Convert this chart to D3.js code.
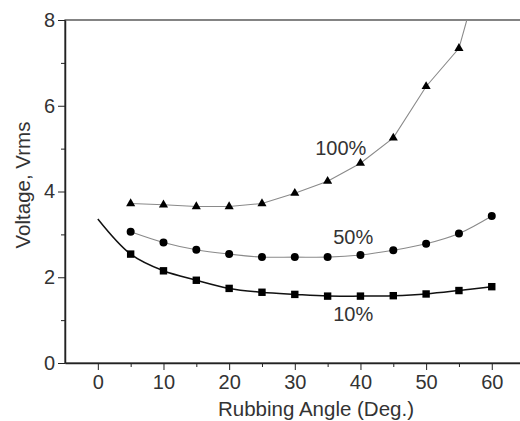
<!DOCTYPE html>
<html>
<head>
<meta charset="utf-8">
<script src="https://cdn.jsdelivr.net/npm/d3@7"></script>
<style>
  body { margin: 0; background: #fff; }
  text { font-family: "Liberation Sans", Arial, sans-serif; fill: #333; }
  .axis path, .axis line { stroke: #222; }
</style>
</head>
<body>
<svg id="chart" width="520" height="421"></svg>
<script>
// values
var angles = [5, 10, 15, 20, 25, 30, 35, 40, 45, 50, 55, 60];
var v10  = [2.54, 2.15, 1.93, 1.74, 1.65, 1.60, 1.56, 1.56, 1.57, 1.61, 1.69, 1.78];
var v50  = [3.06, 2.81, 2.64, 2.54, 2.47, 2.47, 2.47, 2.52, 2.63, 2.78, 3.02, 3.43];
var v100 = [3.72, 3.69, 3.65, 3.65, 3.72, 3.96, 4.24, 4.66, 5.25, 6.45, 7.34];
// where the curves start / leave the frame
var fit10Start = [0, 3.36];
var fit100End = [56.2, 8.0];
var xTicks = [0, 10, 20, 30, 40, 50, 60];
var xMinor = [5, 15, 25, 35, 45, 55];
var yTicks = [0, 2, 4, 6, 8];
var yMinor = [1, 3, 5, 7];
var labels = [
  {text: "100%", x: 37.0, y: 4.85},
  {text: "50%", x: 38.9, y: 2.78},
  {text: "10%", x: 38.9, y: 0.97}
];

var svg = d3.select("#chart");
var mLeft = 65, mTop = 20, mBottom = 363;

var x = d3.scaleLinear().domain([-5, 65]).range([mLeft, 524.6]);
var y = d3.scaleLinear().domain([0, 8]).range([mBottom, mTop]);

svg.append("defs").append("clipPath").attr("id", "clip")
  .append("rect")
  .attr("x", mLeft).attr("y", mTop)
  .attr("width", x(65) - mLeft).attr("height", mBottom - mTop);

// frame (top / right edges)
svg.append("rect")
  .attr("x", mLeft).attr("y", mTop)
  .attr("width", x(65) - mLeft).attr("height", mBottom - mTop)
  .attr("fill", "none").attr("stroke", "#333").attr("stroke-width", 1.2);

// x axis
svg.append("g").attr("class", "axis")
  .attr("transform", "translate(0," + mBottom + ")")
  .call(d3.axisBottom(x).tickValues(xMinor).tickSize(4).tickFormat("").tickSizeOuter(0))
  .call(function(g) { g.select(".domain").remove(); });
var gx = svg.append("g").attr("class", "axis")
  .attr("transform", "translate(0," + mBottom + ")")
  .call(d3.axisBottom(x).tickValues(xTicks).tickSize(7).tickSizeOuter(0).tickPadding(5));
gx.selectAll("text").style("font-size", "20px").attr("fill", "#333");
gx.select(".domain").attr("stroke-width", 1.5);

// y axis
svg.append("g").attr("class", "axis")
  .attr("transform", "translate(" + mLeft + ",0)")
  .call(d3.axisLeft(y).tickValues(yMinor).tickSize(4).tickFormat("").tickSizeOuter(0))
  .call(function(g) { g.select(".domain").remove(); });
var gy = svg.append("g").attr("class", "axis")
  .attr("transform", "translate(" + mLeft + ",0)")
  .call(d3.axisLeft(y).tickValues(yTicks).tickSize(7).tickSizeOuter(0).tickPadding(3));
gy.selectAll("text").style("font-size", "20px").attr("fill", "#333");
gy.select(".domain").attr("stroke-width", 1.5);

// axis titles
svg.append("text")
  .attr("x", 316).attr("y", 416)
  .attr("text-anchor", "middle")
  .style("font-size", "20.5px")
  .text("Rubbing Angle (Deg.)");
svg.append("text")
  .attr("transform", "translate(30,185) rotate(-90)")
  .attr("text-anchor", "middle")
  .style("font-size", "20.5px")
  .text("Voltage, Vrms");

// series
var pts10 = [fit10Start].concat(angles.map(function(a, i) { return [a, v10[i]]; }));
var pts50 = angles.map(function(a, i) { return [a, v50[i]]; });
var pts100 = angles.slice(0, v100.length).map(function(a, i) { return [a, v100[i]]; }).concat([fit100End]);

var smooth = d3.line()
  .x(function(d) { return x(d[0]); })
  .y(function(d) { return y(d[1]); })
  .curve(d3.curveCatmullRom.alpha(0.5));
var straight = d3.line()
  .x(function(d) { return x(d[0]); })
  .y(function(d) { return y(d[1]); });

var plot = svg.append("g").attr("clip-path", "url(#clip)");

plot.append("path").datum(pts100).attr("d", straight)
  .attr("fill", "none").attr("stroke", "#8a8a8a").attr("stroke-width", 1.1);
plot.append("path").datum(pts50).attr("d", smooth)
  .attr("fill", "none").attr("stroke", "#8a8a8a").attr("stroke-width", 1.1);
plot.append("path").datum(pts10).attr("d", smooth)
  .attr("fill", "none").attr("stroke", "#111").attr("stroke-width", 1.5);

plot.selectAll(".sq").data(v10).enter().append("rect")
  .attr("class", "sq")
  .attr("x", function(d, i) { return x(angles[i]) - 3.7; })
  .attr("y", function(d) { return y(d) - 3.7; })
  .attr("width", 7.4).attr("height", 7.4)
  .attr("fill", "#000");

plot.selectAll(".dot").data(v50).enter().append("circle")
  .attr("class", "dot")
  .attr("cx", function(d, i) { return x(angles[i]); })
  .attr("cy", function(d) { return y(d); })
  .attr("r", 4)
  .attr("fill", "#000");

var tri = d3.symbol().type(d3.symbolTriangle).size(36);
plot.selectAll(".tri").data(v100).enter().append("path")
  .attr("class", "tri")
  .attr("transform", function(d, i) { return "translate(" + x(angles[i]) + "," + y(d) + ")"; })
  .attr("d", tri)
  .attr("fill", "#000");

svg.selectAll(".lbl").data(labels).enter().append("text")
  .attr("class", "lbl")
  .attr("x", function(d) { return x(d.x); })
  .attr("y", function(d) { return y(d.y); })
  .attr("text-anchor", "middle")
  .style("font-size", "20px")
  .text(function(d) { return d.text; });
</script>
</body>
</html>
